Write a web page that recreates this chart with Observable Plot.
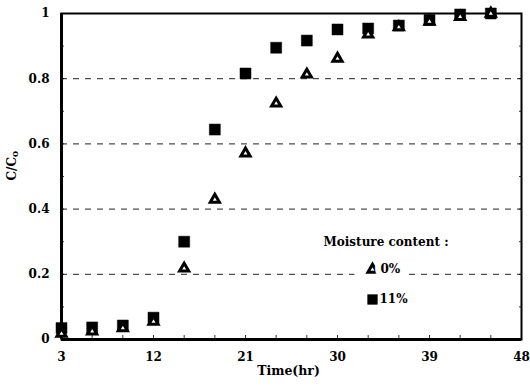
<!DOCTYPE html>
<html>
<head>
<meta charset="utf-8">
<script src="https://cdn.jsdelivr.net/npm/d3@7"></script>
<script src="https://cdn.jsdelivr.net/npm/@observablehq/plot@0.6"></script>
<style>
  body { margin: 0; background: #fff; }
</style>
</head>
<body>
<div id="chart"></div>
<script>
// Breakthrough curves: relative concentration C/Co over time
const times = [3, 6, 9, 12, 15, 18, 21, 24, 27, 30, 33, 36, 39, 42, 45];
const moisture0 = [0.018, 0.025, 0.035, 0.055, 0.218, 0.429, 0.571, 0.724, 0.813, 0.862, 0.936, 0.958, 0.975, 0.99, 1.0];
const moisture11 = [0.035, 0.037, 0.043, 0.067, 0.30, 0.644, 0.816, 0.895, 0.917, 0.951, 0.954, 0.963, 0.98, 0.997, 1.0];

const xTicks = [3, 12, 21, 30, 39, 48];
const yTicks = [0, 0.2, 0.4, 0.6, 0.8, 1];
const yTickLabels = ["0", "0.2", "0.4", "0.6", "0.8", "1"];
const gridLevels = [0.2, 0.4, 0.6, 0.8];
const xMinor = d3.range(3, 49, 3);
const yMinor = d3.range(0, 1.001, 0.1);

const legendTitle = "Moisture content :";
const legendLabels = ["0%", "11%"];

const rows0 = times.map((t, i) => ({t, v: moisture0[i]}));
const rows11 = times.map((t, i) => ({t, v: moisture11[i]}));

const chart = Plot.plot({
  width: 530,
  height: 391,
  marginTop: 13,
  marginRight: 9,
  marginBottom: 52,
  marginLeft: 61,
  style: {
    fontFamily: "'DejaVu Serif', serif",
    fontWeight: "bold",
    fontSize: "12px",
    background: "white",
    color: "black"
  },
  x: {domain: [3, 48]},
  y: {domain: [0, 1]},
  marks: [
    Plot.ruleY(gridLevels, {stroke: "#222", strokeWidth: 1, strokeDasharray: "6,6"}),
    Plot.axisX(xMinor, {tickSize: -4, text: null, label: null, strokeWidth: 0.8}),
    Plot.axisY(yMinor, {anchor: "left", tickSize: -3, text: null, label: null, strokeWidth: 0.8}),
    Plot.axisY(yMinor, {anchor: "right", tickSize: -3, text: null, label: null, strokeWidth: 0.8}),
    Plot.axisX(xTicks, {tickSize: 0, tickPadding: 13, label: null}),
    Plot.axisY(yTicks, {tickSize: 0, tickPadding: 12, label: null,
      tickFormat: d => yTickLabels[yTicks.indexOf(d)]}),
    Plot.frame({strokeWidth: 2}),
    Plot.ruleX([xTicks[0]], {strokeWidth: 3}),
    Plot.ruleY([yTicks[0]], {strokeWidth: 3}),
    Plot.text(["Time(hr)"], {frameAnchor: "bottom", lineAnchor: "top", dx: -3, dy: 27, fontSize: 12.5}),
    Plot.text(["C/Co"], {frameAnchor: "left", rotate: -90, dx: -49, dy: 4, fontSize: 12, className: "ylabel"}),
    // 11% moisture: filled squares
    Plot.dot(rows11, {x: "t", y: "v", symbol: "square", r: 6.2, fill: "black", stroke: "black", strokeWidth: 0.5}),
    // 0% moisture: open triangles drawn on top
    Plot.dot(rows0, {x: "t", y: "v", symbol: "triangle", r: 3.4, fill: "white", stroke: "black", strokeWidth: 3}),
    // legend
    Plot.text([legendTitle], {frameAnchor: "top-left", dx: 262, dy: 229, textAnchor: "start", lineAnchor: "middle"}),
    Plot.dot([0], {x: null, y: null, frameAnchor: "top-left", dx: 306, dy: 256, r: 14, fill: "white", stroke: null}),
    Plot.dot([0], {x: null, y: null, frameAnchor: "top-left", dx: 311, dy: 256, symbol: "triangle", r: 3.4, fill: "white", stroke: "black", strokeWidth: 3}),
    Plot.dot([0], {x: null, y: null, frameAnchor: "top-left", dx: 311, dy: 286, symbol: "square", r: 5.5, fill: "black", stroke: "black", strokeWidth: 0.5}),
    Plot.text([legendLabels[0]], {frameAnchor: "top-left", dx: 319, dy: 256, textAnchor: "start", lineAnchor: "middle",
      stroke: "white", strokeWidth: 12, paintOrder: "stroke", fill: "black"}),
    Plot.text([legendLabels[1]], {frameAnchor: "top-left", dx: 318, dy: 286, textAnchor: "start", lineAnchor: "middle"})
  ]
});

// subscript "o" in the y-axis label
const yl = chart.querySelector(".ylabel text");
if (yl) {
  yl.textContent = "C/C";
  const sub = document.createElementNS("http://www.w3.org/2000/svg", "tspan");
  sub.setAttribute("font-size", "9");
  sub.setAttribute("dy", "2");
  sub.textContent = "o";
  yl.appendChild(sub);
}

document.getElementById("chart").appendChild(chart);
</script>
</body>
</html>
